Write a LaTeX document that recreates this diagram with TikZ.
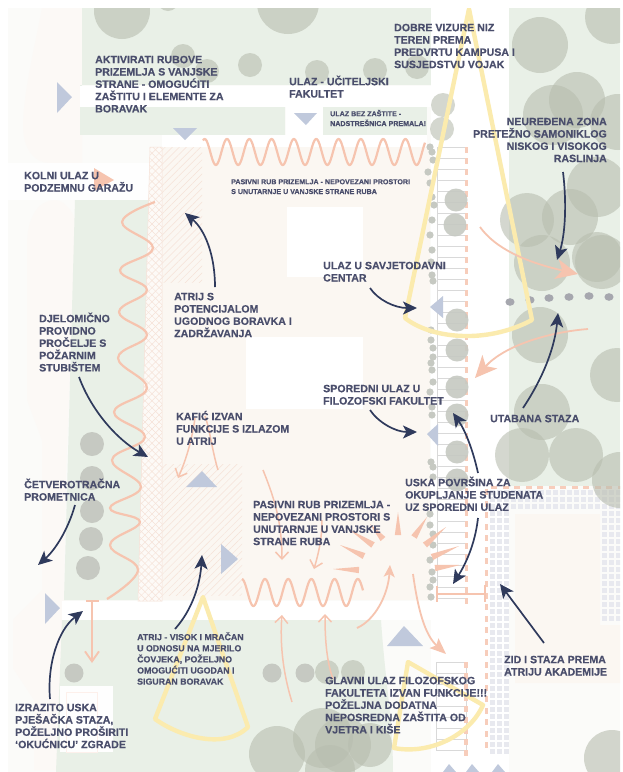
\documentclass[tikz,border=0pt]{standalone}
\usepackage{fontspec}
\setmainfont[BoldFeatures={FakeBold=0.5}]{Liberation Sans}
\usetikzlibrary{arrows.meta,calc,patterns.meta}
\definecolor{ink}{HTML}{4A4E6C}
\definecolor{navy}{HTML}{2F3A5C}
\definecolor{salmon}{HTML}{F6C4AF}
\definecolor{grass}{HTML}{E9F0E7}
\definecolor{bldg}{HTML}{FBF7F2}
\definecolor{roadc}{HTML}{FCF9F6}
\definecolor{paper}{HTML}{FBFBF9}
\definecolor{tri}{HTML}{C0C9DC}
\definecolor{sun}{HTML}{FBEBAE}
\definecolor{treec}{HTML}{B8BDAF}
\definecolor{bush}{HTML}{C6C9C2}
\definecolor{gridc}{HTML}{E8E9EF}
\definecolor{hatchc}{HTML}{F6E2D8}
\newcommand{\fl}{\rule{0pt}{10pt}}
\newcommand{\spoke}[2]{\fill[salmon] (#1) -- ($(#2)!3.2pt!90:(#1)$) -- ($(#2)!3.2pt!-90:(#1)$) -- cycle;}
\tikzset{
  lbl/.style={anchor=north west,align=left,inner sep=0pt,text=ink,font=\fontsize{10.6}{12.3}\selectfont\bfseries},
  lblr/.style={lbl,anchor=north east,align=right},
  lblsm/.style={lbl,font=\fontsize{8.8}{11.1}\selectfont\bfseries},
  lbltiny/.style={lbl,font=\fontsize{7.1}{9.8}\selectfont\bfseries},
  note/.style={navy,line width=1.7pt,-{Stealth[length=14pt,width=13pt,inset=3.5pt]}},
  pinkhead/.style={salmon,line width=1.8pt,-{Stealth[length=22pt,width=20pt,inset=6pt]}},
  pinkopen/.style={salmon,line width=1.5pt,-{Straight Barb[length=7pt,width=13pt]}},
  wave/.style={salmon,line width=2.2pt},
  cone/.style={sun,line width=4.4pt,line join=round},
  tree/.style={fill=treec,opacity=.6},
  bushy/.style={fill=bush},
  trimark/.style={fill=tri},
  stairline/.style={draw=gray!30,line width=.6pt},
  pinkdash/.style={fill=salmon!85}
}
\begin{document}
\begin{tikzpicture}[x=1pt,y=-1pt]
\useasboundingbox (0,0) rectangle (623,772);
\fill[white] (0,0) rectangle (623,772);
\begin{scope}
\clip (8,8) rectangle (620,772);
\fill[paper] (8,8) rectangle (620,772);
% road bands
\fill[roadc] (42,8) .. controls (34,50) and (24,90) .. (23,125) .. controls (23,150) and (35,163) .. (50,163) -- (82,163) -- (82,8) -- cycle;
\fill[roadc] (27,245) .. controls (27,215) and (40,200) .. (55,200) .. controls (65,200) and (76,215) .. (76,225) -- (66,470) -- (64,600) -- (60,770) -- (34,770) -- (34,700) -- (13,668) -- (13,620) -- (42,590) -- (42,440) -- (27,400) -- cycle;
% green areas
\fill[grass] (82,8) rectangle (431,85);
\fill[grass] (80,107) rectangle (285,135);
\fill[grass] (80,85) rectangle (82,107);
\fill[grass] (75,200) -- (150,200) -- (140,600) -- (64,600) -- cycle;
\fill[grass] (62,620) -- (381,620) .. controls (385,680) and (393,720) .. (393,772) -- (56,772) -- cycle;
\fill[grass] (509,8) rectangle (620,486);
% white strips
\fill[white] (80,86) rectangle (431,107);
\fill[white] (431,8) rectangle (509,772);
\fill[white!97!paper] (62,601) rectangle (431,620);
\fill[white!80!paper] (8,163) rectangle (150,200);
\fill[white!80!paper] (60,686) rectangle (113,752);
\draw[salmon!25,line width=.8pt] (66,692) rectangle (97,752);
\fill[white] (286,107) rectangle (323,135);
\fill[white] (162,135) rectangle (427,147);
\fill[grass] (323,107) rectangle (427,135);
% academy
\foreach \y in {490,497,...,750}{\foreach \x in {490,497,504}{\fill[gridc] (\x,\y) rectangle +(4.6,4.6);}}
\foreach \y in {490,497,504}{\foreach \x in {511,518,...,618}{\fill[gridc] (\x,\y) rectangle +(4.6,4.6);}}
\foreach \y in {511,518,...,620}{\foreach \x in {602,609,616}{\fill[gridc] (\x,\y) rectangle +(4.6,4.6);}}
\fill[bldg] (515,514) -- (600,514) -- (600,625) -- (620,625) -- (620,683) -- (515,683) -- cycle;
% building
\fill[bldg] (150,147) rectangle (430,600);
\fill[white] (287,207) rectangle (363,277);
\fill[white] (246,337) rectangle (363,409);
% hatch strips
\fill[pattern={Lines[angle=45,distance=5pt,line width=.5pt]},pattern color=hatchc] (162,147) rectangle (202,282);
\fill[pattern={Lines[angle=45,distance=5pt,line width=.5pt]},pattern color=hatchc] (162,464) rectangle (242,595);
\fill[bldg!60!white] (150,147) -- (162,147) -- (162,601) -- (138,601) -- cycle;
\fill[pattern={Lines[angle=45,distance=5pt,line width=.5pt]},pattern color=hatchc] (150,147) -- (162,147) -- (162,601) -- (138,601) -- cycle;
\fill[pattern={Lines[angle=-45,distance=5pt,line width=.5pt]},pattern color=hatchc] (150,147) -- (162,147) -- (162,601) -- (138,601) -- cycle;
\draw[hatchc,line width=.5pt] (150,147) -- (162,147) -- (162,601) -- (138,601) -- cycle;
% stairs
\fill[white] (436,147) rectangle (466,602);
\foreach \y in {147,158,...,600}{\draw[stairline] (437,\y) -- (466,\y);}
\draw[stairline] (437,147) -- (437,600);
\fill[white] (436,662) rectangle (466,750);
\foreach \y in {662,673,...,750}{\draw[stairline] (436,\y) -- (466,\y);}
\draw[stairline] (436,662) -- (436,750) (466,662) -- (466,750);
% pink dashes
\foreach \y in {147,158,...,600}{\fill[pinkdash] (464.5,\y) rectangle +(3.6,6);}
\foreach \y in {662,673,...,750}{\fill[pinkdash] (464,\y) rectangle +(3.6,6);}
\foreach \y in {489,500.5,...,750}{\fill[pinkdash] (484.5,\y) rectangle +(3.6,6);}
\foreach \x in {491,502.5,...,618}{\fill[pinkdash] (\x,485.5) rectangle +(6,3.4);}
% trees
\foreach \x/\y/\r in {122/11/28,288/3/31,168/0/11,540/45/28,612/17/27,553/115/30,577/100/28,618/122/28,597/187/30,527/220/27,570/217/28,597/257/25,542/263/28,602/262/27,540/335/28,617/375/27,542/412/28,522/455/27,576/455/27,620/480/28,612/758/28,277/754/28,323/738/30,343/745/28,330/770/25,370/745/22}{\fill[tree] (\x,\y) circle (\r);}
\foreach \x/\y in {183/56,207/71,250/65,317/72,375/70,417/67,443/105,442/129,327/672,353/672}{\fill[tree] (\x,\y) circle (12);}
\foreach \x/\y in {456/200,455/225,457/320,457/350,457/387,457/415,457/452,457/480}{\fill[bushy,opacity=.9] (\x,\y) circle (11.5);}
\foreach \x/\y in {92/444,92/478,92/511,91/539,88/568}{\fill[bushy] (\x,\y) circle (12);}
\foreach \x/\y in {74/673,272/673,305/673}{\fill[bushy] (\x,\y) circle (9.5);}
\foreach \x/\y in {430/147,432/152,433/160,428/172,430/183,432/197,434/205,432/220,430/235,432/250,431/262,432/275,433/281,431/330,431/340,433/348,433/357,431/363,432/370,433/382,430/392,432/407,432/415,431/462,433/467,433/477,430/514,430/525,433/534,433/545,430/560,432/572,433/580,430/587,431/597}{\fill[bushy] (\x,\y) circle (3.6);}
% path dots
\foreach \x/\y in {510/302,530/300,549/298,569/297,589/296,609/297}{\fill[gray!60!ink!60] (\x,\y) ellipse (4.6 and 3.8);}
% blue triangles
\fill[trimark] (57,82) -- (57,113) -- (72,97) -- cycle;
\fill[trimark] (173,128) -- (197,128) -- (185,140) -- cycle;
\fill[trimark] (294,113) -- (317,113) -- (306,125) -- cycle;
\fill[trimark] (443,296) -- (443,318) -- (430,307) -- cycle;
\fill[trimark] (438,424) -- (438,446) -- (427,434) -- cycle;
\fill[trimark] (202,471) -- (186,487) -- (217,487) -- cycle;
\fill[trimark] (221,544) -- (221,574) -- (238,559) -- cycle;
\fill[trimark] (45,593) -- (45,624) -- (60,608) -- cycle;
\fill[trimark] (404,626) -- (387,646) -- (423,646) -- cycle;
\fill[trimark] (449,764) -- (443,772) -- (456,772) -- cycle;
\fill[trimark] (472,764) -- (466,772) -- (479,772) -- cycle;
\fill[trimark] (498,764) -- (492,772) -- (505,772) -- cycle;
\fill[salmon] (94,168) -- (114,180) -- (94,191) -- cycle;
% sun cones
\draw[cone] (469,9) -- (405,318) .. controls (430,338) and (485,345) .. (532,320) -- cycle;
\draw[cone] (203,597) -- (155,719) .. controls (180,737) and (225,750) .. (248,727) -- cycle;
\draw[cone] (408,662) -- (483,705) .. controls (470,735) and (430,755) .. (394,748) -- cycle;
% squiggles
\draw[wave] plot[domain=203:425,samples=260] (\x,{152-13*cos(16.14*(\x-227))});
\draw[wave] plot[domain=242:363,samples=160] (\x,{592.5-13.5*cos(15.52*(\x-265))});
\draw[wave] plot[smooth,tension=.7] coordinates {(155,202)(122,222)(153,248)(120,270)(147,290)(119,312)(147,335)(118,358)(147,388)(114,412)(145,437)(112,460)(141,487)(110,508)(140,522)(110,545)(138,570)(107,599)};
% sunburst
\spoke{333,569}{359,570}\spoke{340,545}{364,556}\spoke{350,530}{373,545}\spoke{370,524}{383,539}\spoke{398,512}{398,535}\spoke{427,517}{414,537}\spoke{446,527}{425,545}\spoke{459,546}{432,557}\spoke{460,565}{435,568}
% pink arrows
\coordinate (pa1) at (480,227); \coordinate (pa2) at (578,274);
\draw[pinkhead] (pa1) .. controls (495,248) and (525,262) .. (pa2);
\coordinate (pb1) at (588,329); \coordinate (pb2) at (475,378);
\draw[pinkhead] (pb1) .. controls (550,332) and (505,345) .. (pb2);
\coordinate (pc1) at (218,470); \coordinate (pc2) at (205,416);
\draw[salmon,line width=1.5pt] (pc1) .. controls (212,450) and (210,430) .. (pc2);
\coordinate (pc3) at (195,418); \coordinate (pc4) at (178,478);
\draw[pinkopen] (pc3) .. controls (192,440) and (186,460) .. (pc4);
\coordinate (pd1) at (263,470); \coordinate (pd2) at (282,560);
\draw[pinkopen] (pd1) .. controls (273,495) and (282,520) .. (pd2);
\coordinate (pe1) at (322,520); \coordinate (pe2) at (314,569);
\draw[pinkopen] (pe1) .. controls (322,540) and (318,555) .. (pe2);
\coordinate (pf1) at (292,702); \coordinate (pf2) at (282,615);
\draw[pinkopen] (pf1) .. controls (282,670) and (280,640) .. (pf2);
\coordinate (pg1) at (333,679); \coordinate (pg2) at (325,614);
\draw[pinkopen] (pg1) .. controls (326,660) and (325,635) .. (pg2);
\coordinate (ph1) at (357,628); \coordinate (ph2) at (390,565);
\draw[pinkhead,-{Stealth[length=12pt,width=11pt,inset=3pt]}] (ph1) .. controls (375,620) and (388,595) .. (ph2);
\coordinate (pi1) at (413,574); \coordinate (pi2) at (446,654);
\draw[pinkhead,-{Stealth[length=16pt,width=13pt,inset=3pt]}] (pi1) .. controls (418,610) and (425,635) .. (pi2);
\coordinate (pj1) at (92,601); \coordinate (pj2) at (92,663);
\draw[salmon,line width=1.9pt] (86,601) -- (99,601);
\draw[salmon,line width=1.9pt,-{Straight Barb[length=10pt,width=14pt]}] (pj1) -- (pj2);
\coordinate (pk1) at (437,594); \coordinate (pk2) at (485,594);
\draw[salmon,line width=2.4pt] (pk1) -- (pk2);
\draw[salmon,line width=2.4pt] (437,586) -- (437,602) (485,585) -- (485,602);
\end{scope}
% navy leader arrows
\coordinate (a1) at (215,287); \coordinate (a1e) at (185,213);
\draw[note] (a1) .. controls (215,255) and (205,230) .. (a1e);
\coordinate (a2) at (79,377); \coordinate (a2e) at (148,457);
\draw[note] (a2) .. controls (92,412) and (118,440) .. (a2e);
\coordinate (a3) at (75,505); \coordinate (a3e) at (38,565);
\draw[note] (a3) .. controls (68,530) and (55,550) .. (a3e);
\coordinate (a4) at (50,699); \coordinate (a4e) at (83,611);
\draw[note] (a4) .. controls (47,665) and (58,630) .. (a4e);
\coordinate (a5) at (175,629); \coordinate (a5e) at (202,555);
\draw[note] (a5) .. controls (192,610) and (200,585) .. (a5e);
\coordinate (a6) at (370,288); \coordinate (a6e) at (417,308);
\draw[note] (a6) .. controls (378,300) and (395,308) .. (a6e);
\coordinate (a7) at (370,410); \coordinate (a7e) at (417,432);
\draw[note] (a7) .. controls (378,422) and (395,432) .. (a7e);
\coordinate (a8) at (478,473); \coordinate (a8e) at (453,413);
\draw[note] (a8) .. controls (473,450) and (465,430) .. (a8e);
\coordinate (a9) at (478,518); \coordinate (a9e) at (453,584);
\draw[note] (a9) .. controls (475,545) and (465,565) .. (a9e);
\coordinate (a10) at (523,408); \coordinate (a10e) at (558,313);
\draw[note] (a10) .. controls (545,375) and (555,345) .. (a10e);
\coordinate (a11) at (563,172); \coordinate (a11e) at (557,260);
\draw[note] (a11) .. controls (567,205) and (565,235) .. (a11e);
\coordinate (a12) at (544,643); \coordinate (a12e) at (500,584);
\draw[note] (a12) -- (a12e);
% labels
\node[lbl] (t1) at (95,53) {\fl AKTIVIRATI RUBOVE\\PRIZEMLJA S VANJSKE\\STRANE  - OMOGUĆITI\\ZAŠTITU I ELEMENTE ZA\\BORAVAK};
\node[lbl] (t2) at (289,75) {\fl ULAZ - UČITELJSKI\\FAKULTET};
\node[lbltiny] (t3) at (330,106) {\fl ULAZ BEZ ZAŠTITE -\\NADSTREŠNICA PREMALA!};
\node[lbltiny] (t4) at (231,174) {\fl PASIVNI RUB PRIZEMLJA - NEPOVEZANI PROSTORI\\S UNUTARNJE U VANJSKE STRANE RUBA};
\node[lbl] (t5) at (394,21) {\fl DOBRE VIZURE NIZ\\TEREN PREMA\\PREDVRTU KAMPUSA I\\SUSJEDSTVU VOJAK};
\node[lblr] (t6) at (607,115) {\fl NEUREĐENA ZONA\\PRETEŽNO SAMONIKLOG\\NISKOG I VISOKOG\\RASLINJA};
\node[lbl] (t7) at (24,169) {\fl KOLNI ULAZ U\\PODZEMNU GARAŽU};
\node[lbl] (t8) at (174,290) {\fl ATRIJ S\\POTENCIJALOM\\UGODNOG BORAVKA I\\ZADRŽAVANJA};
\node[lbl] (t9) at (39,312) {\fl DJELOMIČNO\\PROVIDNO\\PROČELJE S\\POŽARNIM\\STUBIŠTEM};
\node[lbl] (t10) at (176,410) {\fl KAFIĆ IZVAN\\FUNKCIJE S IZLAZOM\\U ATRIJ};
\node[lbl] (t11) at (24,478) {\fl ČETVEROTRAČNA\\PROMETNICA};
\node[lbl] (t12) at (323,259) {\fl ULAZ U SAVJETODAVNI\\CENTAR};
\node[lbl] (t13) at (323,382) {\fl SPOREDNI ULAZ U\\FILOZOFSKI FAKULTET};
\node[lbl] (t14) at (490,412) {\fl UTABANA STAZA};
\node[lbl] (t15) at (405,476) {\fl USKA POVRŠINA ZA\\OKUPLJANJE STUDENATA\\UZ SPOREDNI ULAZ};
\node[lbl] (t16) at (253,498) {\fl PASIVNI RUB PRIZEMLJA -\\NEPOVEZANI PROSTORI S\\UNUTARNJE U VANJSKE\\STRANE RUBA};
\node[lblsm] (t17) at (137,630) {\fl ATRIJ - VISOK I MRAČAN\\U ODNOSU NA MJERILO\\ČOVJEKA, POŽELJNO\\OMOGUĆITI UGODAN I\\SIGURAN BORAVAK};
\node[lbl] (t18) at (15,701) {\fl IZRAZITO USKA\\PJEŠAČKA STAZA,\\POŽELJNO PROŠIRITI\\‘OKUĆNICU’ ZGRADE};
\node[lbl] (t19) at (325,674) {\fl GLAVNI ULAZ FILOZOFSKOG\\FAKULTETA IZVAN FUNKCIJE!!!\\POŽELJNA DODATNA\\NEPOSREDNA ZAŠTITA OD\\VJETRA I KIŠE};
\node[lbl] (t20) at (504,653) {\fl ZID I STAZA PREMA\\ATRIJU AKADEMIJE};
\end{tikzpicture}
\end{document}
